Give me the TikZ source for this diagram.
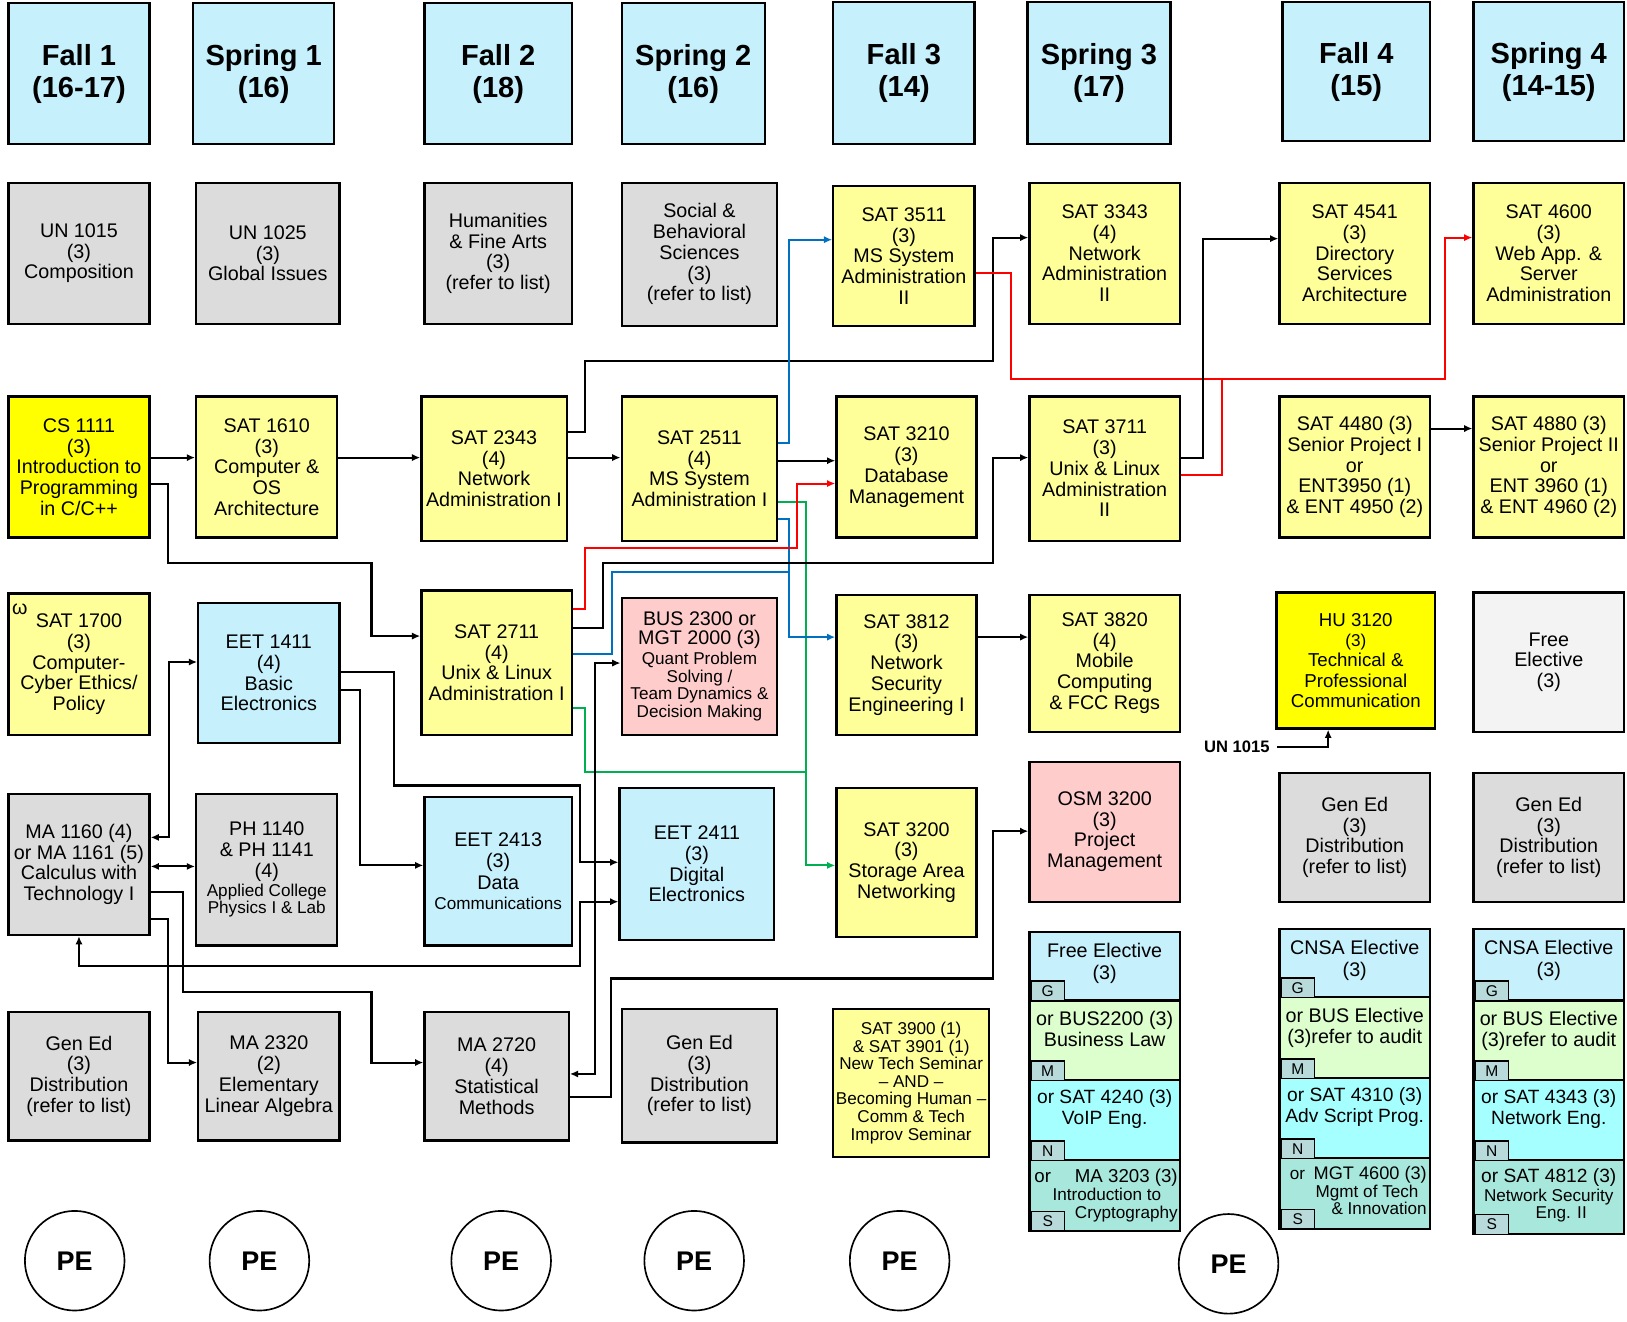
\documentclass[tikz,border=0pt]{standalone}
\usepackage{fontspec}
\setmainfont{Liberation Sans}
\usepackage{tikz}
\usetikzlibrary{arrows.meta,positioning}
\definecolor{hblue}{RGB}{198,240,252}
\definecolor{gbox}{RGB}{220,220,220}
\definecolor{ybox}{RGB}{255,255,153}
\definecolor{ybright}{RGB}{255,255,0}
\definecolor{pbox}{RGB}{255,204,204}
\definecolor{fbox}{RGB}{243,243,243}
\definecolor{mseg}{RGB}{221,255,206}
\definecolor{nseg}{RGB}{166,255,255}
\definecolor{sseg}{RGB}{168,232,220}
\definecolor{tabc}{RGB}{184,218,218}
\definecolor{lnblue}{RGB}{0,112,192}
\definecolor{lngreen}{RGB}{0,176,80}
\definecolor{lnred}{RGB}{255,0,0}
\newcommand\smtxt{\fontsize{16.5}{17}\selectfont}
\newcommand\lgtxt{\fontsize{19}{20}\selectfont}
\tikzstyle{course}=[draw,line width=2.2pt,anchor=north west,align=center,inner sep=0pt,font=\lgtxt]
\tikzstyle{hdr}=[course,fill=hblue,font=\fontsize{28}{31}\selectfont\bfseries]
\tikzstyle{gen}=[course,fill=gbox]
\tikzstyle{sat}=[course,fill=ybox]
\tikzstyle{core}=[course,fill=ybright]
\tikzstyle{eet}=[course,fill=hblue]
\tikzstyle{biz}=[course,fill=pbox]
\tikzstyle{free}=[course,fill=fbox]
\tikzstyle{seg}=[draw,line width=2.2pt,anchor=north west,minimum width=145pt,inner sep=0pt]
\tikzstyle{tabbox}=[draw,line width=1.4pt,fill=tabc,anchor=south west,minimum width=32pt,minimum height=19pt,inner sep=0pt,font=\fontsize{15}{15}\selectfont]
\tikzstyle{stxt}=[align=center,inner sep=0pt,font=\fontsize{19}{21}\selectfont]
\tikzstyle{pe}=[draw,circle,line width=1.6pt,minimum size=96pt,inner sep=0pt,font=\fontsize{26}{26}\selectfont\bfseries]
\tikzstyle{arr}=[line width=2pt,-{Latex[length=8pt,width=7pt]}]
\tikzstyle{darr}=[line width=2pt,{Latex[length=8pt,width=7pt]}-{Latex[length=8pt,width=7pt]}]
\tikzstyle{wire}=[line width=2pt]

\begin{document}
\begin{tikzpicture}[x=1pt,y=-1pt]
\useasboundingbox (0,0) rectangle (1568,1274);
% semesters
\node[hdr,minimum width=136,minimum height=136] (fall1) at (7,2) {Fall 1\\(16-17)};
\node[hdr,minimum width=136,minimum height=136] (spring1) at (185,2) {Spring 1\\(16)};
\node[hdr,minimum width=142,minimum height=136] (fall2) at (408,2) {Fall 2\\(18)};
\node[hdr,minimum width=138,minimum height=136] (spring2) at (598,2) {Spring 2\\(16)};
\node[hdr,minimum width=136,minimum height=137] (fall3) at (802,1) {Fall 3\\(14)};
\node[hdr,minimum width=138,minimum height=137] (spring3) at (989,1) {Spring 3\\(17)};
\node[hdr,minimum width=142,minimum height=134] (fall4) at (1235,1) {Fall 4\\(15)};
\node[hdr,minimum width=145,minimum height=134] (spring4) at (1419,1) {Spring 4\\(14-15)};

% row 1
\node[gen,minimum width=136,minimum height=136] (un1015) at (7,175) {UN 1015\\(3)\\Composition};
\node[gen,minimum width=138,minimum height=136] (un1025) at (188,175) {UN 1025\\(3)\\Global Issues};
\node[gen,minimum width=142,minimum height=136] (hfa) at (408,175) {Humanities\\\& Fine Arts\\(3)\\(refer to list)};
\node[gen,minimum width=150,minimum height=138] (sbs) at (598,175) {Social \&\\Behavioral\\Sciences\\(3)\\(refer to list)};
\node[sat,minimum width=136,minimum height=135] (sat3511) at (802,178) {SAT 3511\\(3)\\MS System\\Administration\\II};
\node[sat,minimum width=145,minimum height=136] (sat3343) at (991,175) {SAT 3343\\(4)\\Network\\Administration\\II};
\node[sat,minimum width=145,minimum height=136] (sat4541) at (1232,175) {SAT 4541\\(3)\\Directory\\Services\\Architecture};
\node[sat,minimum width=145,minimum height=136] (sat4600) at (1419,175) {SAT 4600\\(3)\\Web App. \&\\Server\\Administration};

% row 2
\node[core,minimum width=136,minimum height=136] (cs1111) at (7,381) {CS 1111\\(3)\\Introduction to\\Programming\\in C/C++};
\node[sat,minimum width=136,minimum height=136] (sat1610) at (188,381) {SAT 1610\\(3)\\Computer \&\\OS\\Architecture};
\node[sat,minimum width=140,minimum height=139] (sat2343) at (405,381) {SAT 2343\\(4)\\Network\\Administration I};
\node[sat,minimum width=150,minimum height=139] (sat2511) at (598,381) {SAT 2511\\(4)\\MS System\\Administration I};
\node[sat,minimum width=135,minimum height=136] (sat3210) at (805,381) {SAT 3210\\(3)\\Database\\Management};
\node[sat,minimum width=145,minimum height=139] (sat3711) at (991,381) {SAT 3711\\(3)\\Unix \& Linux\\Administration\\II};
\node[sat,minimum width=145,minimum height=136] (sat4480) at (1232,381) {SAT 4480 (3)\\Senior Project I\\or\\ENT3950 (1)\\\& ENT 4950 (2)};
\node[sat,minimum width=145,minimum height=136] (sat4880) at (1419,381) {SAT 4880 (3)\\Senior Project II\\or\\ENT 3960 (1)\\\& ENT 4960 (2)};

% row 3
\node[sat,minimum width=136,minimum height=136] (sat1700) at (7,571) {SAT 1700\\(3)\\Computer-\\Cyber Ethics/\\Policy};
\node[font=\lgtxt,inner sep=0pt] (omega) at (19,587) {ω};
\node[eet,minimum width=136,minimum height=135] (eet1411) at (190,580) {EET 1411\\(4)\\Basic\\Electronics};
\node[sat,minimum width=145,minimum height=139] (sat2711) at (405,568) {SAT 2711\\(4)\\Unix \& Linux\\Administration I};
\node[biz,minimum width=150,minimum height=132,font=\smtxt] (bus2300) at (598,575) {{\lgtxt BUS 2300 or}\\[2pt]{\lgtxt MGT 2000 (3)}\\[2pt]Quant Problem\\Solving /\\Team Dynamics \&\\Decision Making};
\node[sat,minimum width=135,minimum height=135] (sat3812) at (805,572) {SAT 3812\\(3)\\Network\\Security\\Engineering I};
\node[sat,minimum width=145,minimum height=132] (sat3820) at (991,572) {SAT 3820\\(4)\\Mobile\\Computing\\\& FCC Regs};
\node[core,minimum width=153,minimum height=131,font=\fontsize{18}{19.5}\selectfont] (hu3120) at (1229,570) {HU 3120\\{\smtxt (3)}\\Technical \&\\Professional\\Communication};
\node[free,minimum width=145,minimum height=134] (freeel) at (1419,570) {Free\\Elective\\(3)};
\node[font=\fontsize{16}{16}\selectfont\bfseries] (un) at (1192,720) {UN 1015};

% row 4
\node[gen,minimum width=136,minimum height=136] (ma1160) at (7,764) {MA 1160 (4)\\or MA 1161 (5)\\Calculus with\\Technology I};
\node[gen,minimum width=136,minimum height=146,font=\smtxt] (ph1140) at (188,764) {{\lgtxt PH 1140}\\[3pt]{\lgtxt \& PH 1141}\\[3pt]{\lgtxt (4)}\\[1pt]Applied College\\Physics I \& Lab};
\node[eet,minimum width=142,minimum height=143,font=\smtxt] (eet2413) at (408,767) {{\lgtxt EET 2413}\\[3pt]{\lgtxt (3)}\\[3pt]{\lgtxt Data}\\[2pt]Communications};
\node[eet,minimum width=149,minimum height=147] (eet2411) at (596,758) {EET 2411\\(3)\\Digital\\Electronics};
\node[sat,minimum width=135,minimum height=144] (sat3200) at (805,758) {SAT 3200\\(3)\\Storage Area\\Networking};
\node[biz,minimum width=145,minimum height=135] (osm3200) at (991,733) {OSM 3200\\(3)\\Project\\Management};
\node[gen,minimum width=145,minimum height=124] (gened7) at (1232,744) {Gen Ed\\(3)\\Distribution\\(refer to list)};
\node[gen,minimum width=145,minimum height=124] (gened8) at (1419,744) {Gen Ed\\(3)\\Distribution\\(refer to list)};

% row 5
\node[gen,minimum width=136,minimum height=124] (gened1) at (7,974) {Gen Ed\\(3)\\Distribution\\(refer to list)};
\node[gen,minimum width=136,minimum height=124] (ma2320) at (190,974) {MA 2320\\(2)\\Elementary\\Linear Algebra};
\node[gen,minimum width=139,minimum height=124] (ma2720) at (408,974) {MA 2720\\(4)\\Statistical\\Methods};
\node[gen,minimum width=150,minimum height=129] (gened4) at (598,971) {Gen Ed\\(3)\\Distribution\\(refer to list)};
\node[sat,minimum width=150,minimum height=143,font=\smtxt] (sat3900) at (802,971) {SAT 3900 (1)\\\& SAT 3901 (1)\\New Tech Seminar\\-- AND --\\Becoming Human --\\Comm \& Tech\\Improv Seminar};

% elective stacks
\node[seg,fill=hblue,minimum height=66] (sAg) at (991,897) {};
\node[seg,fill=mseg,minimum height=77] (sAm) at (991,963) {};
\node[seg,fill=nseg,minimum height=77] (sAn) at (991,1040) {};
\node[seg,fill=sseg,minimum height=68] (sAs) at (991,1117) {};
\node[seg,fill=hblue,minimum height=66] (sBg) at (1232,894) {};
\node[seg,fill=mseg,minimum height=78] (sBm) at (1232,960) {};
\node[seg,fill=nseg,minimum height=77] (sBn) at (1232,1038) {};
\node[seg,fill=sseg,minimum height=68] (sBs) at (1232,1115) {};
\node[seg,fill=hblue,minimum height=69] (sCg) at (1419,894) {};
\node[seg,fill=mseg,minimum height=77] (sCm) at (1419,963) {};
\node[seg,fill=nseg,minimum height=77] (sCn) at (1419,1040) {};
\node[seg,fill=sseg,minimum height=71] (sCs) at (1419,1117) {};
\foreach \s in {sA,sB,sC}{
  \foreach \p/\l in {g/G,m/M,n/N,s/S}{
    \node[tabbox] (\s\p-tab) at ([xshift=2pt]\s\p.south west) {\l};
  }
}
\node[stxt,below=12pt of sAg.north] (sAgt) {Free Elective\\(3)};
\node[stxt,below=11pt of sAm.north] (sAmt) {or BUS2200 (3)\\Business Law};
\node[stxt,below=10pt of sAn.north,font=\fontsize{18.5}{20}\selectfont] (sAnt) {or SAT 4240 (3)\\VoIP Eng.};
\node[stxt,align=right,below left=9pt and 3pt of sAs.north east,font=\smtxt] (sAst) {{\fontsize{18}{18}\selectfont or\quad\ MA 3203 (3)}\\[1pt]Introduction to\rule{16pt}{0pt}\\Cryptography};
\node[stxt,below=12pt of sBg.north] (sBgt) {CNSA Elective\\(3)};
\node[stxt,below=11pt of sBm.north] (sBmt) {or BUS Elective\\(3)refer to audit};
\node[stxt,below=10pt of sBn.north,font=\fontsize{18.5}{20}\selectfont] (sBnt) {or SAT 4310 (3)\\Adv Script Prog.};
\node[stxt,align=right,below left=9pt and 4pt of sBs.north east,font=\smtxt] (sBst) {or\enspace{\fontsize{17.5}{18}\selectfont MGT 4600 (3)}\\Mgmt of Tech\rule{8pt}{0pt}\\\& Innovation};
\node[stxt,below=12pt of sCg.north] (sCgt) {CNSA Elective\\(3)};
\node[stxt,below=11pt of sCm.north] (sCmt) {or BUS Elective\\(3)refer to audit};
\node[stxt,below=10pt of sCn.north,font=\fontsize{18.5}{20}\selectfont] (sCnt) {or SAT 4343 (3)\\Network Eng.};
\node[stxt,below=9pt of sCs.north,font=\smtxt] (sCst) {{\fontsize{18.5}{18}\selectfont or SAT 4812 (3)}\\[1pt]Network Security\\\rule{24pt}{0pt}Eng. II};

% PE
\node[pe] (pe1) at (72,1215) {PE};
\node[pe] (pe2) at (250,1215) {PE};
\node[pe] (pe3) at (483,1215) {PE};
\node[pe] (pe4) at (669,1215) {PE};
\node[pe] (pe5) at (867,1215) {PE};
\node[pe] (pe6) at (1184,1218) {PE};

% prerequisites
\draw[arr] (cs1111.east |- 0,441) -- (sat1610.west |- 0,441);
\draw[arr] (sat1610.east |- 0,441) -- (sat2343.west |- 0,441);
\draw[arr] (sat2343.east |- 0,441) -- (sat2511.west |- 0,441);
\draw[arr] (sat2343.east |- 0,416) -| (564,348) -| (957,229) -- (sat3343.west |- 0,229);
\draw[arr] (sat2511.east |- 0,444) -- (sat3210.west |- 0,444);
\draw[arr,draw=lnblue] (sat2511.east |- 0,427) -| (760,231) -- (sat3511.west |- 0,231);
\draw[arr,draw=lngreen] (sat2511.east |- 0,484) -| (777,834) -- (sat3200.west |- 0,834);
\draw[arr,draw=lnblue] (sat2511.east |- 0,500) -| (760,614) -- (sat3812.west |- 0,614);
\draw[wire,draw=lnblue] (sat2711.east |- 0,630) -| (590,551) -- (760,551);
\draw[arr,draw=lnred] (sat2711.east |- 0,587) -| (564,528) -| (768,466) -- (sat3210.west |- 0,466);
\draw[arr] (sat2711.east |- 0,605) -| (581,543) -| (957,441) -- (sat3711.west |- 0,441);
\draw[wire,draw=lngreen] (sat2711.east |- 0,682) -| (564,744) -- (777,744);
\draw[arr,draw=lnred] (sat3511.east |- 0,263) -| (974,365) -| (1393,229) -- (sat4600.west |- 0,229);
\draw[wire,draw=lnred] (sat3711.east |- 0,458) -| (1178,365);
\draw[arr] (sat3711.east |- 0,441) -| (1159,230) -- (sat4541.west |- 0,230);
\draw[arr] (sat4480.east |- 0,413) -- (sat4880.west |- 0,413);
\draw[arr] (sat3812.east |- 0,614) -- (sat3820.west |- 0,614);
\draw[arr] (cs1111.east |- 0,466) -| (162,543) -| (358,613) -- (sat2711.west |- 0,613);
\draw[arr] ([xshift=4pt]un.east) -| (hu3120.south -| 1280,0);
\draw[darr] (ma1160.east |- 0,807) -| (163,638) -- (eet1411.west |- 0,638);
\draw[darr] (ma1160.east |- 0,835) -- (ph1140.west |- 0,835);
\draw[arr] (ma1160.east |- 0,860) -| (176,956) -| (358,1024) -- (ma2720.west |- 0,1024);
\draw[arr] (ma1160.east |- 0,886) -| (162,1024) -- (ma2320.west |- 0,1024);
\draw[darr] (ma1160.south) |- (559,931) |- (eet2411.west |- 0,869);
\draw[arr] (eet1411.east |- 0,648) -| (380,757) -| (559,831) -- (eet2411.west |- 0,831);
\draw[arr] (eet1411.east |- 0,665) -| (347,834) -- (eet2413.west |- 0,834);
\draw[darr] (bus2300.west |- 0,639) -| (573,1035) -- (ma2720.east |- 0,1035);
\draw[arr] (ma2720.east |- 0,1057) -| (589,943) -| (957,801) -- (osm3200.west |- 0,801);
\end{tikzpicture}
\end{document}
